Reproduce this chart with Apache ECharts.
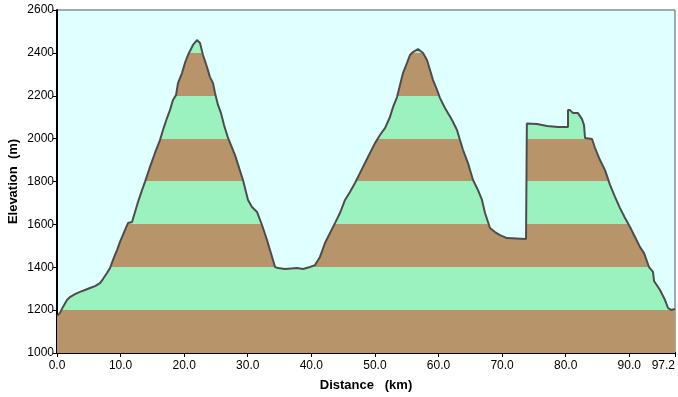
<!DOCTYPE html>
<html lang="en">
<head>
	<meta charset="UTF-8">
	<title>elevation profile</title>
	<style type="text/css">
	body,html{
		width: 100%;
		height: 100%;
		margin: 0;
		padding: 0;
		background: #fff;
	}
	#container{
		width: 678px;
		height: 397px;
	}
	</style>
</head>
<body>
<div id="container"></div>
<script type="text/javascript" src="https://cdn.jsdelivr.net/npm/echarts@6/dist/echarts.min.js"></script>
<script type="text/javascript">
// distance along the route (km) and elevation (m)
var distKm = [0, 0.47, 0.94, 1.57, 2.04, 2.83, 3.62, 4.40, 5.19, 5.98, 6.76, 7.23, 7.86, 8.34, 8.81, 9.44,
	9.91, 10.70, 11.17, 11.80, 12.27, 12.74, 13.37, 13.84, 14.63, 15.41, 16.20, 16.67, 17.30, 17.77, 18.24,
	18.72, 19.03, 19.66, 20.13, 20.60, 21.39, 22.02, 22.49, 22.96, 23.59, 24.06, 24.54, 24.85, 25.32, 25.79,
	26.27, 26.90, 28.0, 29.25, 30.04, 30.67, 31.46, 32.24, 33.03, 33.50, 33.97, 34.29, 34.76, 35.86, 37.75,
	38.69, 39.79, 40.58, 41.36, 42.15, 42.94, 43.72, 44.51, 45.30, 46.08, 46.87, 47.66, 48.44, 49.23, 50.02,
	50.80, 51.59, 52.37, 52.85, 53.48, 53.95, 54.42, 55.05, 55.52, 55.99, 56.78, 57.57, 58.19, 58.67, 59.14,
	59.77, 60.24, 61.02, 62.13, 62.91, 63.38, 63.86, 64.64, 65.43, 66.22, 66.84, 67.32, 68.10, 68.89, 69.68,
	70.78, 73.77, 73.9, 73.9, 75.5, 77.07, 78.8, 80.37, 80.37, 80.69, 81.16, 81.94, 82.57, 82.89, 83.05,
	84.15, 84.62, 85.40, 86.19, 86.98, 87.76, 88.55, 89.34, 90.12, 90.91, 91.70, 92.33, 93.11, 93.74, 93.90,
	94.84, 95.63, 96.10, 96.57, 97.2];
var elevM = [1173, 1187, 1215, 1247, 1261, 1275, 1285, 1294, 1303, 1312, 1326, 1345, 1373, 1396, 1434, 1480,
	1518, 1574, 1606, 1611, 1658, 1704, 1760, 1798, 1868, 1933, 1993, 2040, 2096, 2133, 2180,
	2203, 2259, 2306, 2353, 2390, 2437, 2460, 2446, 2390, 2334, 2287, 2259, 2213, 2157, 2119,
	2063, 2003, 1923, 1807, 1714, 1681, 1658, 1597, 1527, 1480, 1434, 1401, 1396, 1392, 1396,
	1392, 1401, 1410, 1448, 1513, 1560, 1606, 1653, 1714, 1751, 1793, 1840, 1886, 1933, 1979,
	2017, 2049, 2101, 2147, 2194, 2250, 2306, 2353, 2390, 2404, 2418, 2399, 2367, 2320, 2273,
	2227, 2189, 2143, 2087, 2040, 1993, 1947, 1886, 1807, 1760, 1714, 1653, 1583, 1564, 1550,
	1536, 1532, 1532, 2070, 2068, 2059, 2054, 2054, 2133, 2133, 2119, 2119, 2091, 2063, 2003,
	1998, 1956, 1900, 1853, 1784, 1728, 1676, 1630, 1588, 1541, 1494, 1466, 1401, 1378, 1336,
	1294, 1247, 1210, 1201, 1205];
// 200 m colour bands under the profile
var bandEdges = [1000, 1200, 1400, 1600, 1800, 2000, 2200, 2400, 2600];
var bandColors = ['#B8946A', '#9BF2BE'];

var points = distKm.map(function (d, i) { return [d, elevM[i]]; });
var pieces = [];
for (var i = 0; i < bandEdges.length - 1; i++) {
	pieces.push({ gte: bandEdges[i], lt: bandEdges[i + 1], color: bandColors[i % 2] });
}

var axisFont = { color: '#000', fontSize: 12, fontFamily: 'Liberation Sans' };
var option = {
	animation: false,
	backgroundColor: '#fff',
	grid: {
		left: 57, right: 3, top: 10, bottom: 44,
		show: true,
		backgroundColor: '#E0FFFF',
		borderColor: '#555',
		borderWidth: 1,
		outerBoundsMode: 'none'
	},
	visualMap: {
		show: false,
		type: 'piecewise',
		seriesIndex: 0,
		dimension: 1,
		pieces: pieces
	},
	xAxis: {
		type: 'value',
		min: 0,
		max: 97.2,
		interval: 10,
		name: 'Distance   (km)',
		nameLocation: 'middle',
		nameGap: 26,
		nameTextStyle: { color: '#000', fontSize: 13, fontWeight: 'bold', fontFamily: 'Liberation Sans' },
		axisLine: { lineStyle: { color: '#000', width: 2 } },
		axisTick: { show: true, length: 4, lineStyle: { color: '#000' } },
		axisLabel: Object.assign({
			margin: 7,
			alignMaxLabel: 'right',
			formatter: function (v) { return v.toFixed(1); }
		}, axisFont),
		splitLine: { show: false }
	},
	yAxis: {
		type: 'value',
		min: 1000,
		max: 2600,
		interval: 200,
		name: 'Elevation  (m)',
		nameLocation: 'middle',
		nameGap: 37,
		nameMoveOverlap: false,
		nameTextStyle: { color: '#000', fontSize: 13, fontWeight: 'bold', fontFamily: 'Liberation Sans' },
		axisLine: { show: true, lineStyle: { color: '#000', width: 2 } },
		axisTick: { show: true, length: 4, lineStyle: { color: '#000' } },
		axisLabel: Object.assign({
			margin: 3,
			formatter: function (v) { return String(v); }
		}, axisFont),
		splitLine: { show: false }
	},
	series: [{
		type: 'line',
		data: points,
		showSymbol: false,
		lineStyle: { width: 0 },
		areaStyle: { opacity: 1 },
		z: 1
	}, {
		type: 'line',
		data: points,
		showSymbol: false,
		lineStyle: { color: '#4D4D4D', width: 2 },
		z: 3
	}]
};
var chart = echarts.init(document.getElementById('container'));
chart.setOption(option);
</script>
</body>
</html>
